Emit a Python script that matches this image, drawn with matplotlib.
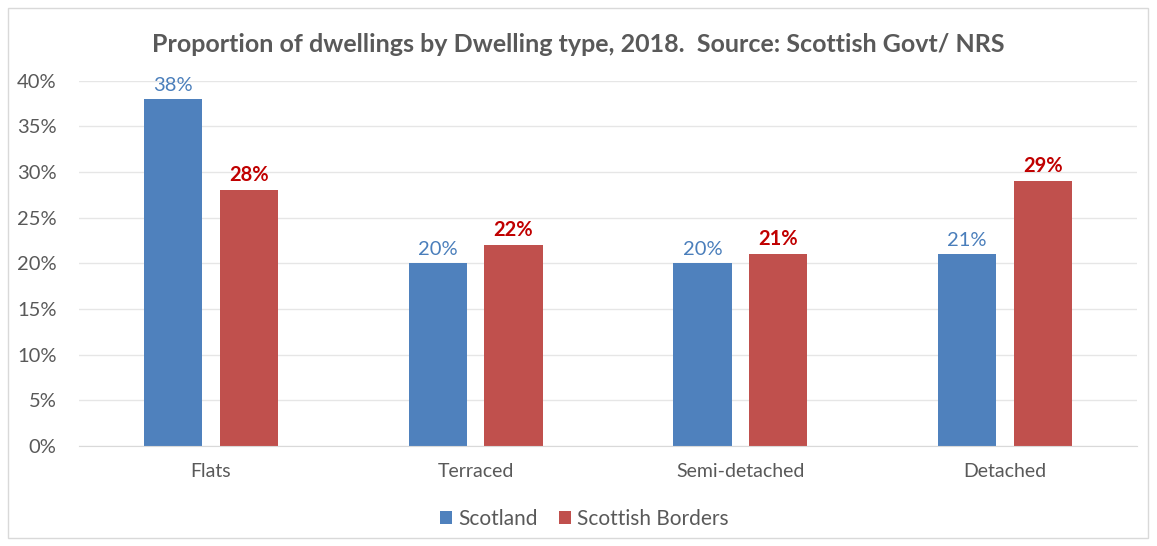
import matplotlib.pyplot as plt
import matplotlib.patches as mpatches
import numpy as np

categories = ["Flats", "Terraced", "Semi-detached", "Detached"]
scotland = [0.38, 0.20, 0.20, 0.21]
borders = [0.28, 0.22, 0.21, 0.29]
yticks = [0, 0.05, 0.10, 0.15, 0.20, 0.25, 0.30, 0.35, 0.40]

plt.rcParams['font.family'] = ['Lato', 'DejaVu Sans']

blue = "#4f81bd"
red = "#c0504d"
grey = "#595959"

fig = plt.figure(figsize=(11.57, 5.46), dpi=100)
# outer frame like the Excel chart area
fig.patches.append(mpatches.Rectangle((8 / 1157, 8 / 546), 1140 / 1157, 530 / 546,
                                      transform=fig.transFigure, fill=False,
                                      edgecolor="#d9d9d9", linewidth=1))
ax = fig.add_axes([0.068, 0.183, 0.915, 0.669])

x = np.arange(len(categories))
w = 0.22
b1 = ax.bar(x - 0.143, scotland, w, color=blue, label="Scotland", zorder=2)
b2 = ax.bar(x + 0.143, borders, w, color=red, label="Scottish Borders", zorder=2)

for rect, v in zip(b1, scotland):
    ax.annotate(f"{v:.0%}", (rect.get_x() + rect.get_width() / 2, v),
                xytext=(0, 4), textcoords="offset points", ha="center", va="bottom",
                color="#4a7ebb", fontsize=14.5)
for rect, v in zip(b2, borders):
    ax.annotate(f"{v:.0%}", (rect.get_x() + rect.get_width() / 2, v),
                xytext=(0, 4), textcoords="offset points", ha="center", va="bottom",
                color="#c00000", fontsize=14.5, fontweight="bold")

ax.set_xlim(-0.5, 3.5)
ax.set_ylim(0, 0.40)
ax.set_yticks(yticks)
ax.set_yticklabels([f"{t:.0%}" for t in yticks], color=grey, fontsize=14.5)
ax.set_xticks(x)
ax.set_xticklabels(categories, color=grey, fontsize=14)
ax.tick_params(axis="y", length=0, pad=16)
ax.tick_params(axis="x", length=0, pad=12)
ax.yaxis.grid(True, color="#e6e6e6", linewidth=1, zorder=0)
for s in ["top", "right", "left"]:
    ax.spines[s].set_visible(False)
ax.spines["bottom"].set_color("#d9d9d9")

fig.text(0.5, 1 - 45 / 546, "Proportion of dwellings by Dwelling type, 2018.  Source: Scottish Govt/ NRS",
         ha="center", va="center", fontsize=18, fontweight="bold", color=grey)

fig.legend(handles=[b1, b2], loc="center", bbox_to_anchor=(0.505, 1 - 519 / 546), ncol=2,
           frameon=False, fontsize=15, handlelength=0.6, handleheight=0.6,
           handletextpad=0.3, columnspacing=1.0, labelcolor=grey)

fig.savefig("out.png", dpi=100)
